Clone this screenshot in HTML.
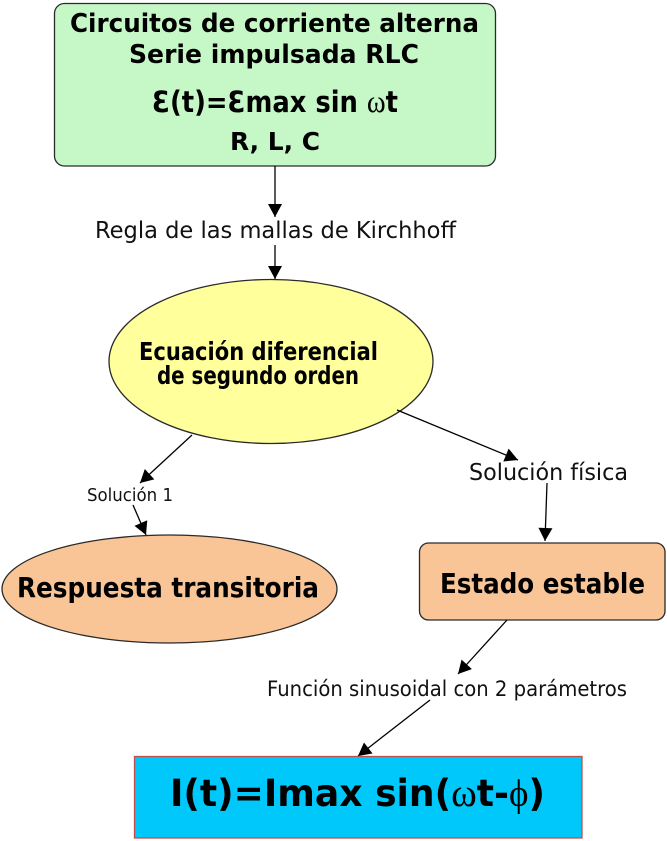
<!DOCTYPE html>
<html>
<head>
<meta charset="utf-8">
<style>
  html, body { margin: 0; padding: 0; background: #ffffff; }
  svg { display: block; }
  .b { font-family: "DejaVu Sans", "Liberation Sans", sans-serif; font-weight: bold; fill: #000; }
  .r { font-family: "DejaVu Sans", "Liberation Sans", sans-serif; fill: #111; }
  .s { font-family: "Liberation Serif", "DejaVu Serif", serif; font-weight: normal; }
</style>
</head>
<body>
<svg width="667" height="841" viewBox="0 0 667 841" xmlns="http://www.w3.org/2000/svg">
  <defs>
    <marker id="ah" markerUnits="userSpaceOnUse" markerWidth="14" markerHeight="14" viewBox="0 0 13 14" refX="13" refY="7" orient="auto">
      <path d="M0,0 L13,7 L0,14 z" fill="#000"/>
    </marker>
  </defs>

  <!-- Green box -->
  <rect x="54.5" y="3.5" width="441" height="162.5" rx="10" ry="10" fill="#c6f7c6" stroke="#2a2a2a" stroke-width="1.3"/>
  <text class="b" x="70" y="32" font-size="26" textLength="409" lengthAdjust="spacingAndGlyphs">Circuitos de corriente alterna</text>
  <text class="b" x="129" y="63" font-size="26" textLength="290" lengthAdjust="spacingAndGlyphs">Serie impulsada RLC</text>
  <text class="b" x="152" y="112" font-size="29" textLength="246" lengthAdjust="spacingAndGlyphs">Ɛ(t)=Ɛmax sin <tspan class="s" font-size="32">ω</tspan>t</text>
  <text class="b" x="230" y="150" font-size="25" textLength="90" lengthAdjust="spacingAndGlyphs">R, L, C</text>

  <!-- Arrow 1 -->
  <line x1="275" y1="166" x2="275" y2="217" stroke="#000" stroke-width="1.3" marker-end="url(#ah)"/>
  <text class="r" x="95" y="238" font-size="23" textLength="361" lengthAdjust="spacingAndGlyphs">Regla de las mallas de Kirchhoff</text>
  <line x1="275" y1="245" x2="275" y2="279" stroke="#000" stroke-width="1.3" marker-end="url(#ah)"/>

  <!-- Yellow ellipse -->
  <ellipse cx="271" cy="361.5" rx="162" ry="82" fill="#ffff9c" stroke="#2a2a2a" stroke-width="1.3"/>
  <text class="b" x="139" y="360" font-size="25" textLength="239" lengthAdjust="spacingAndGlyphs">Ecuación diferencial</text>
  <text class="b" x="157" y="384" font-size="25" textLength="202" lengthAdjust="spacingAndGlyphs">de segundo orden</text>

  <!-- Left branch -->
  <line x1="192" y1="435" x2="140" y2="483" stroke="#000" stroke-width="1.3" marker-end="url(#ah)"/>
  <text class="r" x="87" y="501" font-size="18" textLength="86" lengthAdjust="spacingAndGlyphs">Solución 1</text>
  <line x1="133" y1="505" x2="146" y2="535" stroke="#000" stroke-width="1.3" marker-end="url(#ah)"/>

  <!-- Orange ellipse -->
  <ellipse cx="169.5" cy="589" rx="167.5" ry="54" fill="#fac596" stroke="#2a2a2a" stroke-width="1.3"/>
  <text class="b" x="17" y="597" font-size="28" textLength="302" lengthAdjust="spacingAndGlyphs">Respuesta transitoria</text>

  <!-- Right branch -->
  <line x1="397" y1="410" x2="518" y2="460" stroke="#000" stroke-width="1.3" marker-end="url(#ah)"/>
  <text class="r" x="469" y="480" font-size="23" textLength="159" lengthAdjust="spacingAndGlyphs">Solución física</text>
  <line x1="547" y1="483" x2="545" y2="541" stroke="#000" stroke-width="1.3" marker-end="url(#ah)"/>

  <!-- Orange rect -->
  <rect x="419.5" y="543" width="245.5" height="77" rx="9" ry="9" fill="#fac596" stroke="#2a2a2a" stroke-width="1.3"/>
  <text class="b" x="440" y="593" font-size="28" textLength="205" lengthAdjust="spacingAndGlyphs">Estado estable</text>

  <!-- Bottom connectors -->
  <line x1="507" y1="620" x2="458" y2="674" stroke="#000" stroke-width="1.3" marker-end="url(#ah)"/>
  <text class="r" x="267" y="696" font-size="21.5" textLength="360" lengthAdjust="spacingAndGlyphs">Función sinusoidal con 2 parámetros</text>
  <line x1="430" y1="700" x2="358" y2="756" stroke="#000" stroke-width="1.3" marker-end="url(#ah)"/>

  <!-- Blue box -->
  <rect x="134.5" y="756.5" width="447.5" height="81.5" fill="#00c8fa" stroke="#c0504d" stroke-width="1.3"/>
  <text class="b" x="170" y="806" font-size="37" textLength="375" lengthAdjust="spacingAndGlyphs">I(t)=Imax sin(<tspan class="s" font-size="40">ω</tspan>t-<tspan class="s" font-size="38">ϕ</tspan>)</text>
</svg>
</body>
</html>
